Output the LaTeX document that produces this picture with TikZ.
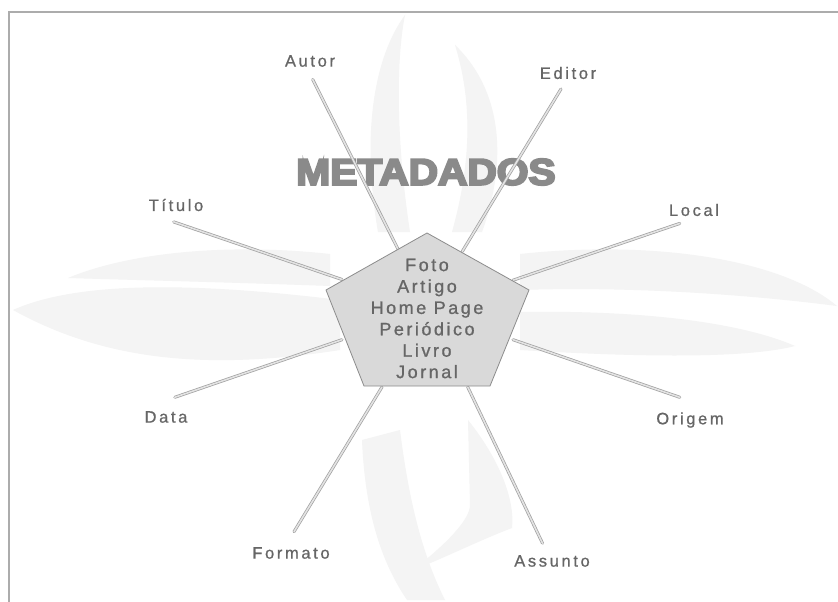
\documentclass[tikz,border=0pt]{standalone}
\usepackage{fontspec}
\setmainfont{Liberation Sans}
\newfontfamily\lblfont{Liberation Sans}[LetterSpace=16,FakeBold=0.8]
\newfontfamily\pentfont{Liberation Sans}[LetterSpace=14,FakeBold=1]
\newfontfamily\titlefont{Liberation Sans}[BoldFeatures={FakeBold=5.5}]
\definecolor{txtgray}{HTML}{666666}
\definecolor{wmark}{HTML}{F4F4F4}
\definecolor{pentfill}{HTML}{D9D9D9}
\definecolor{pentedge}{HTML}{8C8C8C}
\definecolor{titlegray}{HTML}{8A8A8A}
\tikzset{
  lbl/.style={text=txtgray, font=\lblfont\fontsize{16.5}{18}\selectfont, inner sep=0pt},
  spoke/.style={draw=gray!75, double=gray!22, double distance=1.6pt, line width=0.7pt, line cap=round},
  wm/.style={fill=wmark, draw=none},
}
\begin{document}
\begin{tikzpicture}[x=1pt,y=-1pt]
\useasboundingbox (0,0) rectangle (838,602);
\fill[white] (0,0) rectangle (838,602);
% watermark swooshes
\path[wm] (13,310) .. controls (80,280) and (200,283) .. (340,300) -- (340,350) .. controls (200,372) and (100,358) .. cycle;
\path[wm] (68,278) .. controls (130,252) and (230,243) .. (330,254) -- (330,286) .. controls (220,282) and (130,280) .. cycle;
\path[wm] (520,254) .. controls (650,240) and (780,258) .. (837,306) .. controls (760,296) and (640,286) .. (520,290) -- cycle;
\path[wm] (520,312) .. controls (640,310) and (740,322) .. (795,346) .. controls (740,360) and (620,356) .. (520,350) -- cycle;
\path[wm] (405,15) .. controls (372,60) and (362,140) .. (378,232) -- (410,232) .. controls (396,140) and (396,60) .. cycle;
\path[wm] (455,45) .. controls (502,90) and (508,160) .. (482,232) -- (452,232) .. controls (472,160) and (472,100) .. cycle;
\path[wm] (362,440) .. controls (365,510) and (380,560) .. (407,600) -- (445,600) .. controls (425,560) and (410,510) .. (400,430) -- cycle;
\path[wm] (468,420) .. controls (500,460) and (515,500) .. (512,528) .. controls (480,540) and (440,560) .. (413,570) .. controls (445,545) and (470,520) .. (470,505) -- cycle;
% frame
\draw[gray!65, line width=1.4pt] (9,602) -- (9,12) -- (838,12);
% title
\node (title) at (426,172) {\scalebox{1.1}[1]{\textcolor{titlegray}{\titlefont\bfseries\fontsize{37}{40}\selectfont METADADOS}}};
% spoke coordinates
\coordinate (aO) at (312.7,79.5);  \coordinate (aI) at (398.2,249.5);
\coordinate (eO) at (561,89);      \coordinate (eI) at (462.3,251.4);
\coordinate (tO) at (173.7,221.9); \coordinate (tI) at (342,279.5);
\coordinate (lO) at (679.8,223.4); \coordinate (lI) at (513,280.2);
\coordinate (dO) at (174.8,397.3); \coordinate (dI) at (342,339.7);
\coordinate (oO) at (679.8,397.3); \coordinate (oI) at (513,339.7);
\coordinate (fO) at (294,531.7);   \coordinate (fI) at (382,387);
\coordinate (sO) at (542.5,543.2); \coordinate (sI) at (467.7,387);
\foreach \a/\b in {aO/aI,eO/eI,tO/tI,lO/lI,dO/dI,oO/oI,fO/fI,sO/sI}
  \draw[spoke] (\a) -- (\b);
% pentagon
\coordinate (p1) at (427,233);
\coordinate (p2) at (529,290);
\coordinate (p3) at (490,386);
\coordinate (p4) at (364,386);
\coordinate (p5) at (326,290);
\filldraw[fill=pentfill, draw=pentedge, line width=0.8pt] (p1) -- (p2) -- (p3) -- (p4) -- (p5) -- cycle;
\node[text=txtgray, align=center, inner sep=0pt, font=\pentfont\fontsize{18}{21.4}\selectfont] (types) at (427,318.5)
  {Foto\\Artigo\\Home Page\\Periódico\\Livro\\Jornal};
% labels
\node[lbl] (autor) at (310,61) {Autor};
\node[lbl] (editor) at (568,73) {Editor};
\node[lbl] (titulo) at (176,205) {Título};
\node[lbl] (local) at (694,210) {Local};
\node[lbl] (data) at (166,417) {Data};
\node[lbl] (origem) at (690,420) {Origem};
\node[lbl] (formato) at (291,553) {Formato};
\node[lbl] (assunto) at (552,561) {Assunto};
\end{tikzpicture}
\end{document}
